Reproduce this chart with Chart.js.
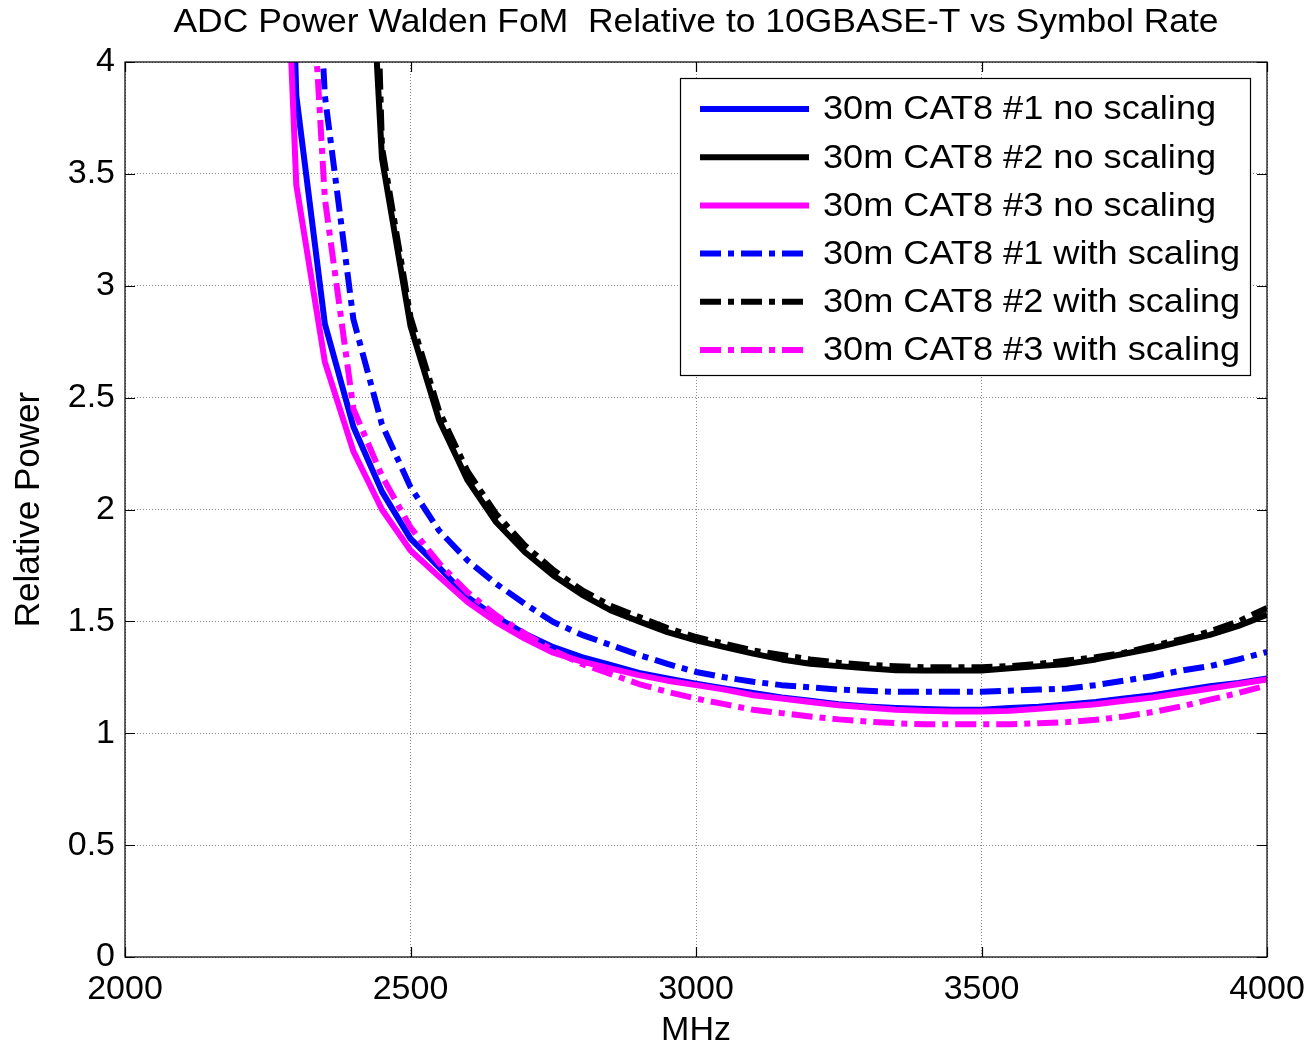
<!DOCTYPE html>
<html>
<head>
<meta charset="utf-8">
<script src="https://cdn.jsdelivr.net/npm/chart.js@4.4.1/dist/chart.umd.min.js"></script>
<style>
  html, body { margin: 0; padding: 0; background: #fff; }
  #wrap { width: 1307px; height: 1051px; position: relative; }
</style>
</head>
<body>
<div id="wrap"><canvas id="c" width="1307" height="1051"></canvas></div>
<script>
// ---------- data ----------
const chartTitle = 'ADC Power Walden FoM  Relative to 10GBASE-T vs Symbol Rate';
const xTitle = 'MHz';
const yTitle = 'Relative Power';
const seriesNames = [
  '30m CAT8 #1 no scaling',
  '30m CAT8 #2 no scaling',
  '30m CAT8 #3 no scaling',
  '30m CAT8 #1 with scaling',
  '30m CAT8 #2 with scaling',
  '30m CAT8 #3 with scaling'
];
const mhz = [2250, 2300, 2350, 2400, 2450, 2500, 2550, 2600, 2650, 2700, 2750, 2800,
             2850, 2900, 2950, 3000, 3050, 3100, 3150, 3200, 3250, 3300, 3350, 3400,
             3450, 3500, 3550, 3600, 3650, 3700, 3750, 3800, 3850, 3900, 3950, 4000];
const cat8_1_noScaling = [8.2, 3.85, 2.83, 2.37, 2.08, 1.87, 1.742, 1.608, 1.519, 1.445, 1.385, 1.34,
             1.305, 1.27, 1.245, 1.222, 1.20, 1.18, 1.16, 1.145, 1.13, 1.12, 1.113, 1.108,
             1.105, 1.105, 1.113, 1.118, 1.128, 1.14, 1.155, 1.17, 1.19, 1.21, 1.225, 1.245];
const cat8_2_noScaling = [null, null, null, 5.96, 3.57, 2.82, 2.40, 2.13, 1.943, 1.81, 1.705, 1.62,
             1.55, 1.50, 1.452, 1.415, 1.385, 1.356, 1.33, 1.311, 1.30, 1.29, 1.282, 1.28,
             1.28, 1.28, 1.29, 1.30, 1.31, 1.33, 1.355, 1.38, 1.41, 1.44, 1.48, 1.53];
const cat8_3_noScaling = [6.6, 3.45, 2.66, 2.26, 2.0, 1.817, 1.70, 1.586, 1.497, 1.423, 1.36, 1.32,
             1.29, 1.26, 1.235, 1.215, 1.195, 1.17, 1.155, 1.14, 1.125, 1.115, 1.105, 1.10,
             1.097, 1.097, 1.10, 1.11, 1.12, 1.13, 1.145, 1.16, 1.18, 1.20, 1.22, 1.24];
const cat8_1_withScaling = [null, 6.35, 3.85, 2.85, 2.38, 2.10, 1.906, 1.772, 1.668, 1.579, 1.497, 1.44,
             1.395, 1.35, 1.31, 1.274, 1.25, 1.23, 1.215, 1.205, 1.195, 1.19, 1.185, 1.185,
             1.185, 1.185, 1.19, 1.195, 1.20, 1.215, 1.235, 1.255, 1.28, 1.30, 1.33, 1.363];
const cat8_2_withScaling = [null, null, null, 8.0, 3.62, 2.86, 2.44, 2.17, 1.98, 1.84, 1.73, 1.64,
             1.57, 1.52, 1.47, 1.43, 1.40, 1.37, 1.35, 1.33, 1.315, 1.305, 1.30, 1.295,
             1.295, 1.295, 1.30, 1.31, 1.325, 1.34, 1.36, 1.39, 1.42, 1.455, 1.50, 1.56];
const cat8_3_withScaling = [null, 5.57, 3.39, 2.45, 2.15, 1.92, 1.76, 1.63, 1.527, 1.446, 1.37, 1.31,
             1.265, 1.22, 1.185, 1.155, 1.13, 1.105, 1.09, 1.075, 1.062, 1.052, 1.045, 1.04,
             1.04, 1.04, 1.04, 1.045, 1.05, 1.06, 1.075, 1.095, 1.12, 1.15, 1.18, 1.214];
const xTickLabels = ['2000', '2500', '3000', '3500', '4000'];
const yTickLabels = ['0', '0.5', '1', '1.5', '2', '2.5', '3', '3.5', '4'];

// ---------- styles ----------
const FONT = "'Liberation Sans', Arial, sans-serif";
const seriesValues = [cat8_1_noScaling, cat8_2_noScaling, cat8_3_noScaling,
                      cat8_1_withScaling, cat8_2_withScaling, cat8_3_withScaling];
const seriesColors = ['#0000ff', '#000000', '#ff00ff', '#0000ff', '#000000', '#ff00ff'];
const DASHDOT = [21, 7, 6, 7];
const seriesDash = [[], [], [], DASHDOT, DASHDOT, DASHDOT];
const LINE_W = 6;

const datasets = seriesValues.map((vals, i) => ({
  label: seriesNames[i],
  data: mhz.map((x, j) => ({ x: x, y: vals[j] })).filter(p => p.y !== null),
  borderColor: seriesColors[i],
  backgroundColor: seriesColors[i],
  borderWidth: LINE_W,
  borderDash: seriesDash[i],
  borderCapStyle: 'butt',
  borderJoinStyle: 'round',
  pointRadius: 0,
  tension: 0,
  fill: false,
  clip: 0,
  order: seriesValues.length - i
}));

function stretchedText(ctx, text, x, y, sx, align) {
  ctx.save();
  ctx.translate(x, y);
  ctx.scale(sx, 1);
  ctx.textAlign = align;
  ctx.fillText(text, 0, 0);
  ctx.restore();
}

const framePlugin = {
  id: 'frame',
  afterDatasetsDraw(chart) {
    const ctx = chart.ctx;
    const a = chart.chartArea;
    const xs = chart.scales.x, ys = chart.scales.y;
    ctx.save();
    // box
    ctx.strokeStyle = '#000';
    ctx.lineWidth = 1.2;
    ctx.setLineDash([]);
    ctx.strokeRect(a.left, a.top, a.right - a.left, a.bottom - a.top);
    // inward tick marks
    const TL = 10;
    ctx.beginPath();
    xTickLabels.forEach(t => {
      const px = Math.round(xs.getPixelForValue(Number(t))) + 0.5;
      ctx.moveTo(px, a.bottom); ctx.lineTo(px, a.bottom - TL);
      ctx.moveTo(px, a.top); ctx.lineTo(px, a.top + TL);
    });
    yTickLabels.forEach(t => {
      const py = Math.round(ys.getPixelForValue(Number(t))) + 0.5;
      ctx.moveTo(a.left, py); ctx.lineTo(a.left + TL, py);
      ctx.moveTo(a.right, py); ctx.lineTo(a.right - TL, py);
    });
    ctx.stroke();

    // legend
    const lx = a.left + 555, ly = a.top + 16, lw = 570, lh = 297;
    ctx.fillStyle = '#fff';
    ctx.fillRect(lx, ly, lw, lh);
    ctx.strokeStyle = '#000';
    ctx.lineWidth = 1.2;
    ctx.strokeRect(lx + 0.5, ly + 0.5, lw, lh);
    ctx.font = '34px ' + FONT;
    ctx.textBaseline = 'middle';
    chart.data.datasets.forEach((ds, i) => {
      const y = ly + 31 + i * 48.2;
      ctx.beginPath();
      ctx.strokeStyle = ds.borderColor;
      ctx.lineWidth = LINE_W;
      ctx.lineCap = 'butt';
      ctx.setLineDash(ds.borderDash || []);
      ctx.moveTo(lx + 20, y);
      ctx.lineTo(lx + 129, y);
      ctx.stroke();
      ctx.setLineDash([]);
      ctx.fillStyle = '#000';
      stretchedText(ctx, ds.label, lx + 143, y + 1, 1.063, 'left');
    });
    ctx.restore();
  },
  afterDraw(chart) {
    const ctx = chart.ctx;
    const a = chart.chartArea;
    ctx.save();
    ctx.font = '34px ' + FONT;
    ctx.fillStyle = '#000';
    ctx.textBaseline = 'middle';
    stretchedText(ctx, chartTitle, (a.left + a.right) / 2, 23, 1.043, 'center');
    ctx.restore();
  }
};

new Chart(document.getElementById('c'), {
  type: 'line',
  data: { datasets: datasets },
  plugins: [framePlugin],
  options: {
    responsive: false,
    animation: false,
    devicePixelRatio: 1,
    layout: { padding: { top: 62, right: 40, left: 0, bottom: 0 } },
    plugins: {
      legend: { display: false },
      title: { display: false },
      tooltip: { enabled: false }
    },
    scales: {
      x: {
        type: 'linear',
        min: 2000, max: 4000,
        afterBuildTicks: s => { s.ticks = xTickLabels.map(v => ({ value: Number(v) })); },
        afterFit: s => { s.height = 94; s.paddingLeft = 0; s.paddingRight = 0; },
        ticks: {
          callback: (v) => String(v),
          color: '#000',
          font: { family: FONT, size: 34 },
          padding: 12,
          maxRotation: 0,
          autoSkip: false
        },
        grid: {
          color: '#8c8c8c',
          lineWidth: 1,
          drawTicks: false
        },
        border: { display: false, dash: [1, 2] },
        title: {
          display: true, text: xTitle, color: '#000',
          font: { family: FONT, size: 34 },
          padding: { top: 0, bottom: 0 }
        }
      },
      y: {
        type: 'linear',
        min: 0, max: 4,
        afterBuildTicks: s => { s.ticks = yTickLabels.map(v => ({ value: Number(v) })); },
        afterFit: s => { s.width = 125; s.paddingTop = 0; s.paddingBottom = 0; },
        ticks: {
          callback: (v) => String(v),
          color: '#000',
          font: { family: FONT, size: 34 },
          padding: 10,
          autoSkip: false
        },
        grid: {
          color: '#8c8c8c',
          lineWidth: 1,
          drawTicks: false
        },
        border: { display: false, dash: [1, 2] },
        title: {
          display: true, text: yTitle, color: '#000',
          font: { family: FONT, size: 35 },
          padding: { top: 8, bottom: 0 }
        }
      }
    }
  }
});
</script>
</body>
</html>
